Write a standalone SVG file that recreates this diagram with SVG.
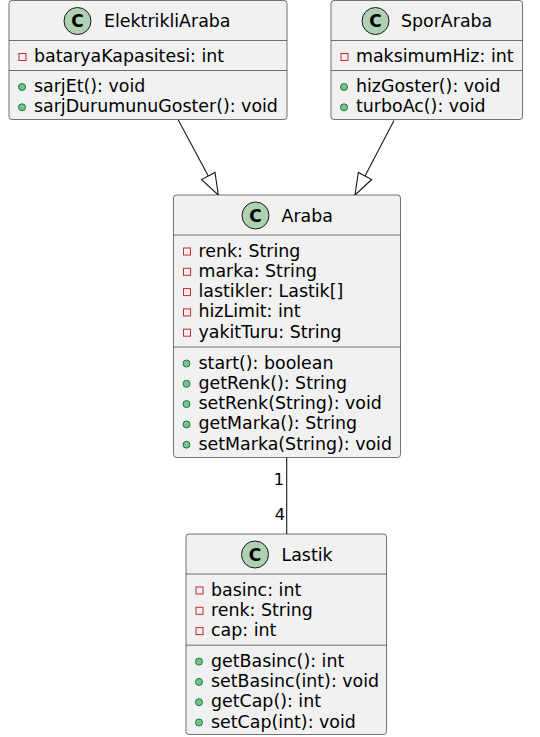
<svg xmlns="http://www.w3.org/2000/svg" width="540" height="737" viewBox="0 0 540 737">
<style>
.box{fill:#F1F1F1;stroke:#181818;stroke-width:0.6}
.sep{stroke:#181818;stroke-width:0.6}
.ci{fill:#ADD1B2;stroke:#181818;stroke-width:1}
.cl{font-family:"DejaVu Sans",sans-serif;font-size:17px;font-weight:bold;fill:#000;text-anchor:middle}
.t{font-family:"DejaVu Sans",sans-serif;font-size:17.4px;fill:#000}
.pr{fill:none;stroke:#C82930;stroke-width:1}
.pu{fill:#84BE84;stroke:#038048;stroke-width:1}
.e{stroke:#181818;stroke-width:1.1;fill:none}
.hd{stroke:#181818;stroke-width:1.1;fill:#FFFFFF}
.lb{font-family:"DejaVu Sans",sans-serif;font-size:16.3px;fill:#000;text-anchor:end}
</style>
<g id="connectors">
<line class="e" x1="178.3" y1="120" x2="208.3" y2="176"/>
<polygon class="hd" points="218.3,195 201.6,179.6 215,172.4"/>
<line class="e" x1="394" y1="120.5" x2="365" y2="176"/>
<polygon class="hd" points="355,195 371.7,179.5 358.3,172.4"/>
<line class="e" x1="286.7" y1="457.5" x2="286.7" y2="534"/>
<text class="lb" x="284" y="485">1</text>
<text class="lb" x="285" y="520">4</text>
</g>
<g id="ElektrikliAraba" transform="translate(9,0.5)">
<rect class="box" x="0" y="0" width="278" height="119" rx="3"/>
<circle class="ci" cx="68.5" cy="20.5" r="13.5"/>
<text class="cl" x="68.5" y="26.8">C</text>
<text class="t" x="95" y="26.5">ElektrikliAraba</text>
<line class="sep" x1="0" y1="40" x2="278" y2="40"/>
<rect class="pr" x="10" y="53" width="7" height="7"/>
<text class="t" x="25" y="61">bataryaKapasitesi: int</text>
<line class="sep" x1="0" y1="70" x2="278" y2="70"/>
<circle class="pu" cx="13" cy="86.5" r="3.5"/>
<text class="t" x="25" y="91">sarjEt(): void</text>
<circle class="pu" cx="13" cy="106.8" r="3.5"/>
<text class="t" x="25" y="111.3">sarjDurumunuGoster(): void</text>
</g>
<g id="SporAraba" transform="translate(331,0.5)">
<rect class="box" x="0" y="0" width="191.5" height="119" rx="3"/>
<circle class="ci" cx="44.5" cy="20.5" r="13.5"/>
<text class="cl" x="44.5" y="26.8">C</text>
<text class="t" x="70" y="26.5">SporAraba</text>
<line class="sep" x1="0" y1="40" x2="191.5" y2="40"/>
<rect class="pr" x="10" y="53" width="7" height="7"/>
<text class="t" x="25" y="61">maksimumHiz: int</text>
<line class="sep" x1="0" y1="70" x2="191.5" y2="70"/>
<circle class="pu" cx="13" cy="86.5" r="3.5"/>
<text class="t" x="25" y="91">hizGoster(): void</text>
<circle class="pu" cx="13" cy="106.8" r="3.5"/>
<text class="t" x="25" y="111.3">turboAc(): void</text>
</g>
<g id="Araba" transform="translate(173.5,195)">
<rect class="box" x="0" y="0" width="227" height="262.5" rx="3"/>
<circle class="ci" cx="82" cy="20.5" r="13.5"/>
<text class="cl" x="82" y="26.8">C</text>
<text class="t" x="108" y="26.8">Araba</text>
<line class="sep" x1="0" y1="40" x2="227" y2="40"/>
<rect class="pr" x="10" y="53" width="7" height="7"/>
<text class="t" x="25" y="61.5">renk: String</text>
<rect class="pr" x="10" y="73.3" width="7" height="7"/>
<text class="t" x="25" y="81.8">marka: String</text>
<rect class="pr" x="10" y="93.6" width="7" height="7"/>
<text class="t" x="25" y="102.1">lastikler: Lastik[]</text>
<rect class="pr" x="10" y="113.9" width="7" height="7"/>
<text class="t" x="25" y="122.4">hizLimit: int</text>
<rect class="pr" x="10" y="134.2" width="7" height="7"/>
<text class="t" x="25" y="142.7">yakitTuru: String</text>
<line class="sep" x1="0" y1="152" x2="227" y2="152"/>
<circle class="pu" cx="13" cy="168.5" r="3.5"/>
<text class="t" x="25" y="173.5">start(): boolean</text>
<circle class="pu" cx="13" cy="188.8" r="3.5"/>
<text class="t" x="25" y="193.8">getRenk(): String</text>
<circle class="pu" cx="13" cy="209.1" r="3.5"/>
<text class="t" x="25" y="214.1">setRenk(String): void</text>
<circle class="pu" cx="13" cy="229.4" r="3.5"/>
<text class="t" x="25" y="234.4">getMarka(): String</text>
<circle class="pu" cx="13" cy="249.7" r="3.5"/>
<text class="t" x="25" y="254.7">setMarka(String): void</text>
</g>
<g id="Lastik" transform="translate(186,534)">
<rect class="box" x="0" y="0" width="200.5" height="200.5" rx="3"/>
<circle class="ci" cx="69" cy="20.5" r="13.5"/>
<text class="cl" x="69" y="26.8">C</text>
<text class="t" x="95.5" y="26.8">Lastik</text>
<line class="sep" x1="0" y1="40" x2="200.5" y2="40"/>
<rect class="pr" x="10" y="53" width="7" height="7"/>
<text class="t" x="25" y="61.5">basinc: int</text>
<rect class="pr" x="10" y="73.3" width="7" height="7"/>
<text class="t" x="25" y="81.8">renk: String</text>
<rect class="pr" x="10" y="93.6" width="7" height="7"/>
<text class="t" x="25" y="102.1">cap: int</text>
<line class="sep" x1="0" y1="111.2" x2="200.5" y2="111.2"/>
<circle class="pu" cx="13" cy="127.6" r="3.5"/>
<text class="t" x="25" y="132.6">getBasinc(): int</text>
<circle class="pu" cx="13" cy="147.9" r="3.5"/>
<text class="t" x="25" y="152.9">setBasinc(int): void</text>
<circle class="pu" cx="13" cy="168.2" r="3.5"/>
<text class="t" x="25" y="173.2">getCap(): int</text>
<circle class="pu" cx="13" cy="188.5" r="3.5"/>
<text class="t" x="25" y="193.5">setCap(int): void</text>
</g>
</svg>
